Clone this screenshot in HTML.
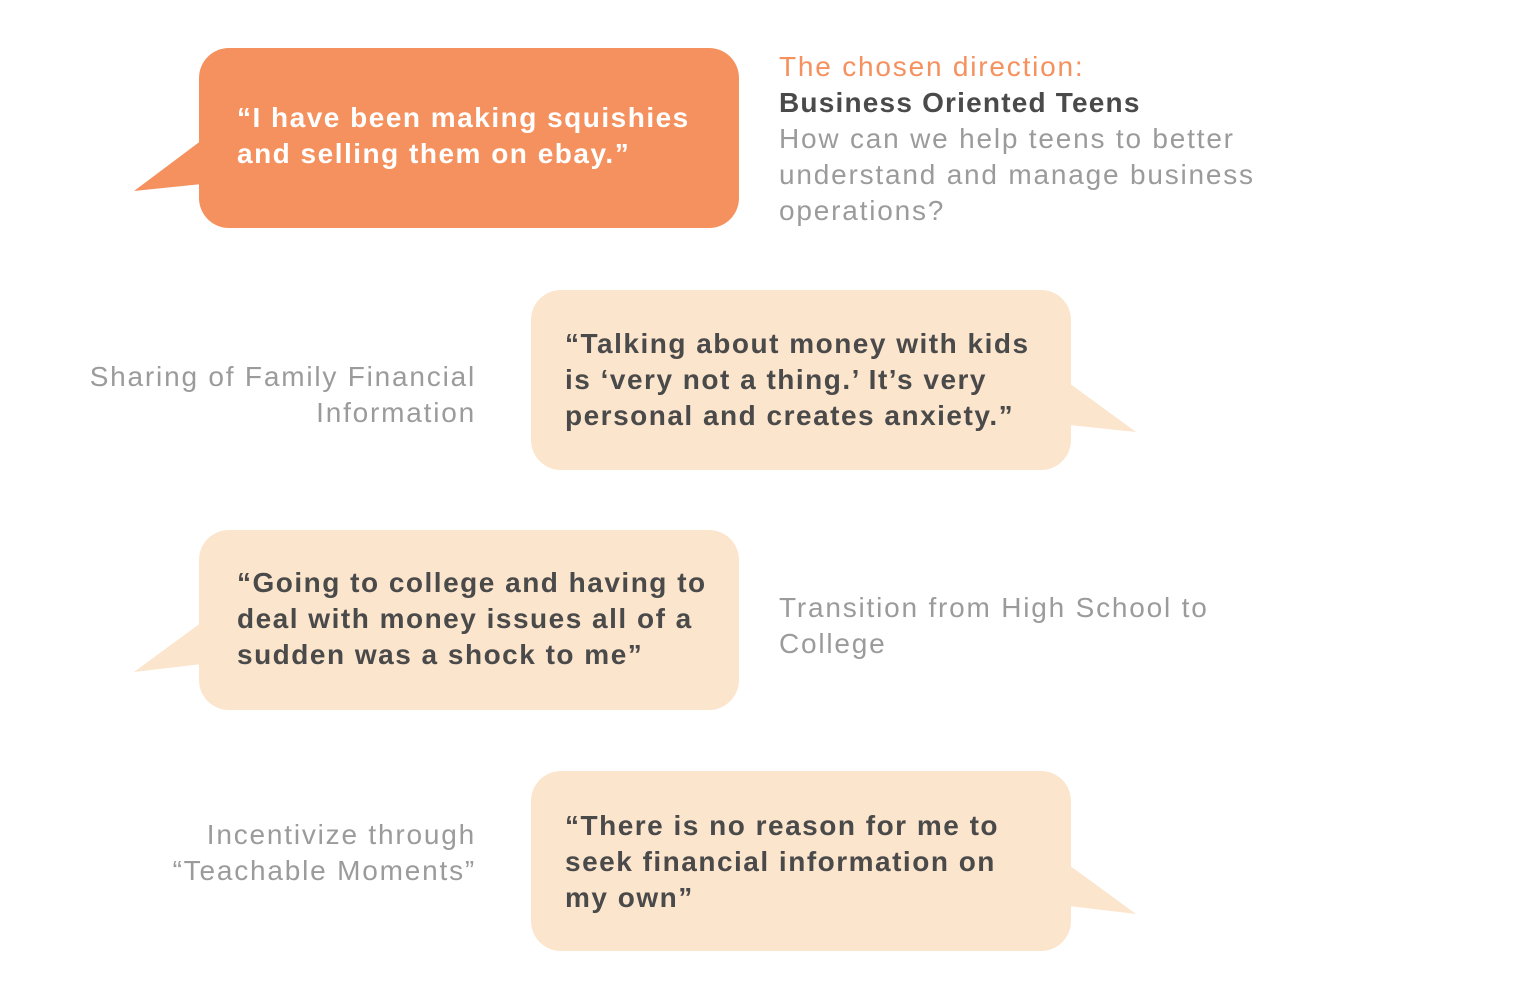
<!DOCTYPE html>
<html><head><meta charset="utf-8"><style>
html,body{margin:0;padding:0;background:#fff;}
body{width:1524px;height:1002px;position:relative;overflow:hidden;font-family:"Liberation Sans",sans-serif;}
.b{position:absolute;width:540px;height:180px;border-radius:30px;}
.bt{position:absolute;font-weight:bold;font-size:28px;line-height:36px;color:#4a4a4a;letter-spacing:1.5px;white-space:nowrap;}
.lbl{position:absolute;font-size:28px;line-height:36px;color:#9b9b9b;letter-spacing:1.8px;white-space:nowrap;}
svg{position:absolute;left:0;top:0;}
</style></head><body>
<svg width="1524" height="1002">
<polygon points="202,140 134,191 202,184" fill="#F4915E"/>
<polygon points="1069,383 1136,432 1069,425" fill="#FCE5CD"/>
<polygon points="202,622 134,672 202,664" fill="#FCE5CD"/>
<polygon points="1069,865 1136,914 1069,906" fill="#FCE5CD"/>
</svg>
<div class="b" style="left:199px;top:48px;background:#F4915E"></div>
<div class="bt" style="left:237px;top:100px;color:#fff">“I have been making squishies<br>and selling them on ebay.”</div>
<div class="lbl" style="left:779px;top:49px;color:#F4915E">The chosen direction:</div>
<div class="lbl" style="left:779px;top:85px;color:#4a4a4a;font-weight:bold;letter-spacing:1.2px">Business Oriented Teens</div>
<div class="lbl" style="left:779px;top:121px">How can we help teens to better<br>understand and manage business<br>operations?</div>

<div class="lbl" style="left:0px;width:476px;text-align:right;top:359px">Sharing of Family Financial<br>Information</div>
<div class="b" style="left:531px;top:290px;background:#FCE5CD"></div>
<div class="bt" style="left:565px;top:326px">“Talking about money with kids<br>is ‘very not a thing.’ It’s very<br>personal and creates anxiety.”</div>

<div class="b" style="left:199px;top:530px;background:#FCE5CD"></div>
<div class="bt" style="left:237px;top:565px">“Going to college and having to<br>deal with money issues all of a<br>sudden was a shock to me”</div>
<div class="lbl" style="left:779px;top:590px">Transition from High School to<br>College</div>

<div class="lbl" style="left:0px;width:476px;text-align:right;top:817px">Incentivize through<br>“Teachable Moments”</div>
<div class="b" style="left:531px;top:771px;background:#FCE5CD"></div>
<div class="bt" style="left:565px;top:808px">“There is no reason for me to<br>seek financial information on<br>my own”</div>
</body></html>
